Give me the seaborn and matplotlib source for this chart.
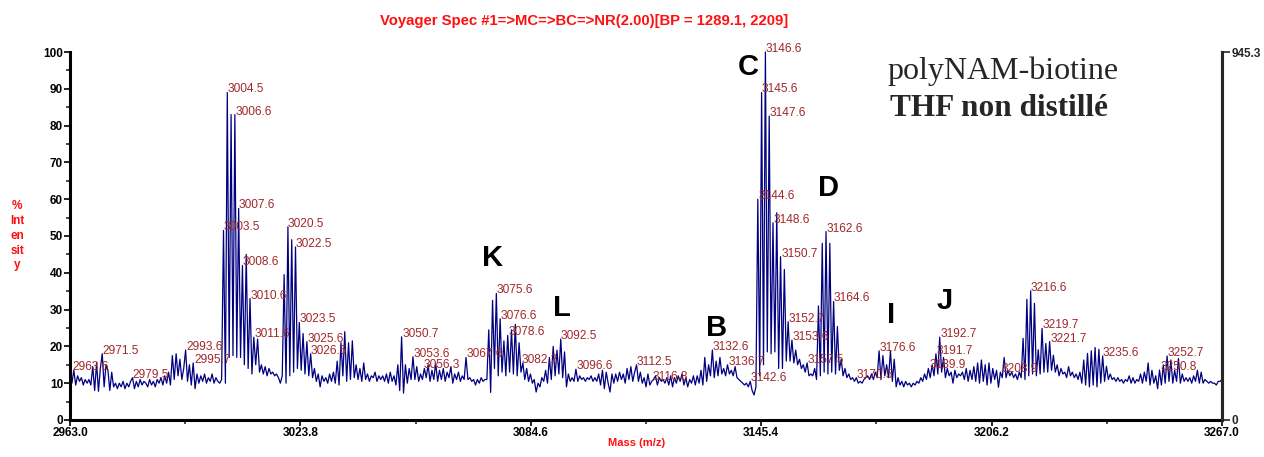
import numpy as np
import pandas as pd
import seaborn as sns
import matplotlib.pyplot as plt

# widmo MALDI - intensywnosc (%) co 0.5 Da od 2963.0 do 3267.0
start_mass = 2963.0
step = 0.5
intensity = [
    13, 10, 13.5, 9.5, 12, 10.5, 11.5, 9.5, 11, 10, 11, 9.5, 14.5, 8, 15.5, 7.8, 14, 18, 9, 15,
    13.5, 8, 13, 9, 10, 8.5, 10, 9, 10.5, 8.5, 10, 9, 10.5, 11.5, 8.5, 10.5, 9, 11, 9.5, 10.5,
    10, 9, 11, 9.5, 10.5, 9, 11, 10, 11.5, 9.5, 12, 10, 13, 9.5, 17.5, 11, 18, 12, 16.5, 11,
    14, 19, 10.5, 15, 9.5, 15.5, 8.5, 12.5, 10, 12, 10.5, 12.5, 10, 11.5, 10.5, 12.5, 10, 11.5, 10.5, 10,
    11, 51.5, 10, 89, 17, 83, 17.5, 83, 17, 57.5, 17, 42, 15, 45, 14, 33, 12.5, 22.5, 15, 22,
    13, 15, 12.5, 14.5, 12, 14, 12.5, 13, 12, 12.5, 11.5, 10, 12, 39.5, 10, 52.5, 12, 49, 13, 47,
    14, 26.5, 13.5, 23.5, 12.5, 21.3, 12, 18, 11.5, 14, 10.5, 12.5, 9, 12, 10.5, 11.5, 10, 12.5, 10.5, 13,
    10, 16, 9.5, 21, 12, 24, 10.5, 21, 11, 21.5, 11.5, 15, 11, 14, 10.5, 15.5, 11, 12.5, 10.5, 12,
    11.5, 13, 10.5, 12, 11, 12, 10.5, 12.5, 10, 13, 10.5, 12, 9.5, 15, 8, 22.6, 7.3, 15, 10, 14,
    11, 17.2, 11, 14.5, 10.5, 12.5, 11, 14, 11.5, 15, 10.5, 13.5, 11, 15.5, 10.5, 13.5, 11, 14, 10.5, 13,
    11.5, 14.5, 10, 12.5, 11, 13, 10.5, 12, 11, 17, 11, 11.5, 10.5, 11, 9.5, 11, 10, 11.5, 10.5, 11,
    11, 24.5, 7.5, 32.5, 14, 34.4, 12, 27.5, 13, 21.5, 12, 23, 13, 24.5, 12.5, 26, 12, 21, 13, 15.5,
    11, 14, 10.5, 12.5, 10, 11, 7.6, 10, 9, 11.5, 10.5, 13.5, 10, 17, 11, 20, 12, 19, 12.5, 22,
    11.5, 18.5, 9, 12.5, 10.5, 11.5, 10.5, 13.8, 10.5, 12, 11, 11.5, 10.5, 11.5, 11, 12, 10.5, 11.5, 10.5, 12.5,
    9.5, 13.5, 8.5, 13, 10, 7.6, 12.5, 10, 12.5, 10.5, 13, 11, 12.5, 10, 14, 11, 14.5, 10.5, 13, 15,
    10.5, 13, 10, 11.5, 9, 12.5, 9.5, 10.5, 11, 12, 9.5, 11.5, 10.5, 11, 10, 11.5, 9.5, 12, 9, 11.5,
    10, 12, 10.5, 12.5, 9.5, 11.5, 9, 11, 10, 12, 9.5, 12, 10, 13.5, 9.5, 17, 10.5, 15, 12, 19,
    11.5, 16, 12, 17, 12.5, 14, 12, 15, 12.5, 13.5, 12, 14.5, 11.5, 11, 10.5, 10, 9.5, 10, 9, 10.5,
    8, 6.8, 9, 60, 12, 89, 15, 100, 18.5, 82.6, 18, 53.6, 18.5, 56.3, 14, 44.4, 14, 40.9, 16, 26.7,
    16, 21.7, 15.5, 19, 15, 16.5, 14, 15, 13, 15.5, 12, 12.5, 12, 14, 11, 31, 12, 48, 13, 51.2,
    12.5, 48, 13, 32.2, 12.5, 25.4, 13.5, 16.5, 12, 14, 11.5, 12.5, 11, 11.5, 10.5, 11.5, 10, 10.5, 10, 11,
    11.5, 12, 11, 12.5, 11, 13, 11.5, 18.8, 11, 17.5, 12, 15, 11.5, 18.8, 10.5, 16.5, 9, 11.5, 9.5, 10.5,
    9, 10.5, 9.5, 10, 9, 10, 9.5, 10.5, 10, 11.5, 10.5, 12.5, 11, 14, 11.5, 15, 12, 18, 12.5, 22.5,
    13, 17, 11.5, 14, 12, 13, 10, 13.5, 11.5, 12.5, 12, 13, 11, 14, 10.5, 13.5, 11, 14.5, 10.5, 15.5,
    10, 16.3, 10.5, 15, 9.5, 15.5, 10, 14, 11, 13.5, 8.9, 13, 11.5, 17, 11.5, 13.5, 12, 13, 11.5, 12.5,
    11, 13, 11.5, 22.2, 11, 32.8, 12, 35.1, 12.5, 31.7, 12, 19.1, 12.5, 24.9, 13, 20.8, 13, 21.3, 13.5, 17.6,
    13, 15, 12, 14, 12.5, 13, 11.5, 14.5, 12, 13, 11.5, 12.5, 11, 13, 10, 16.3, 9.5, 18.1, 9, 18.8,
    9.5, 19.7, 9, 19.2, 10, 17.4, 10.5, 14.6, 11, 12.5, 11, 11.5, 10.5, 11.5, 10.5, 11, 10, 11, 10.5, 12,
    10, 11.5, 10, 11, 10.5, 12.5, 10, 13, 10.5, 15.5, 9.5, 13.5, 10, 12, 8.5, 13.6, 9.5, 15, 10, 17.4,
    10.5, 16.3, 10, 13.5, 10.5, 16.7, 10, 12.5, 10.5, 11.5, 10.5, 11.5, 10, 12, 10.5, 13.5, 10, 13, 10, 11,
    10.5, 10, 10.5, 10, 10, 9.5, 10.5, 10.5, 11,
]
mass = start_mass + step * np.arange(len(intensity))

# etykiety pikow
peak_labels = [
    "2963.6", "2971.5", "2979.5", "2993.6", "2995.7", "3003.5", "3004.5", "3006.6",
    "3007.6", "3008.6", "3010.6", "3011.6", "3020.5", "3022.5", "3023.5", "3025.6",
    "3026.6", "3050.7", "3053.6", "3056.3", "3067.6", "3075.6", "3076.6", "3078.6",
    "3082.2", "3092.5", "3096.6", "3112.5", "3116.8", "3132.6", "3136.7", "3142.6",
    "3144.6", "3145.6", "3146.6", "3147.6", "3148.6", "3150.7", "3152.7", "3153.6",
    "3157.5", "3162.6", "3164.6", "3170.5", "3176.6", "3189.9", "3191.7", "3192.7",
    "3208.9", "3216.6", "3219.7", "3221.7", "3235.6", "3250.8", "3252.7",
]

# litery serii
series_letters = ["C", "D", "B", "I", "J", "K", "L"]
series_mass = [3142.0, 3163.1, 3133.7, 3179.6, 3193.9, 3074.6, 3092.9]
series_height = [96.0, 63.0, 24.9, 28.5, 32.2, 43.9, 30.4]

x_ticks = [2963.0, 3023.8, 3084.6, 3145.4, 3206.2, 3267.0]
base_peak_counts = 945.3

df = pd.DataFrame({"mass": mass, "intensity": intensity})

sns.set_style("ticks")
plt.rcParams["font.family"] = ["Liberation Sans", "DejaVu Sans"]

fig = plt.figure(figsize=(12.64, 4.57), dpi=100)
ax = fig.add_axes([0.0554, 0.0810, 0.9114, 0.8052])

sns.lineplot(data=df, x="mass", y="intensity", ax=ax, color="#000080",
             linewidth=0.9, estimator=None, sort=False)
for l in ax.get_lines():
    l.set_clip_on(False)

ax.set_xlim(x_ticks[0], x_ticks[-1])
ax.set_ylim(0, 100)
ax.set_xticks(x_ticks)
ax.set_xticklabels([f"{t:.1f}" for t in x_ticks], fontsize=8.5, fontweight="bold")
ax.set_xticks([(a + b) / 2 for a, b in zip(x_ticks[:-1], x_ticks[1:])], minor=True)
ax.set_yticks(range(0, 101, 10))
ax.set_yticklabels([str(t) for t in range(0, 101, 10)], fontsize=8.5, fontweight="bold")
ax.set_yticks(range(5, 100, 10), minor=True)
ax.tick_params(axis="both", which="major", length=4, width=1.2, pad=1, colors="black")
ax.tick_params(axis="both", which="minor", length=3, width=1.2)
ax.set_xlabel("")
ax.set_ylabel("")
ax.spines["top"].set_visible(False)
for s in ["left", "bottom", "right"]:
    ax.spines[s].set_linewidth(2.2)
    ax.spines[s].set_color("black")

ax2 = ax.twinx()
ax2.set_ylim(0, base_peak_counts)
ax2.set_yticks([0, base_peak_counts])
ax2.set_yticklabels(["0", f"{base_peak_counts:.1f}"], fontsize=8.5, fontweight="bold")
ax2.tick_params(axis="y", length=6, width=1.2, pad=1)
ax2.spines["top"].set_visible(False)
ax2.spines["right"].set_linewidth(2.2)
ax2.spines["left"].set_visible(False)
ax2.spines["bottom"].set_visible(False)

# etykiety pikow
for lab in peak_labels:
    m = float(lab)
    sel = df[(df["mass"] >= m - 0.5) & (df["mass"] <= m + 0.5)]
    ax.text(m, sel["intensity"].max(), lab, fontsize=8.6, color="#A0282A",
            ha="left", va="baseline", clip_on=False)

for let, m, h in zip(series_letters, series_mass, series_height):
    ax.text(m, h, let, fontsize=21, fontweight="bold", color="black",
            ha="center", va="center")

fig.text(0.7025, 0.845, "polyNAM-biotine", fontsize=23, family="Liberation Serif",
         ha="left", va="center")
fig.text(0.704, 0.763, "THF non distillé", fontsize=22.5, family="Liberation Serif",
         fontweight="bold", ha="left", va="center")

fig.text(0.624, 0.953, "Voyager Spec #1=>MC=>BC=>NR(2.00)[BP = 1289.1, 2209]",
         fontsize=10.7, fontweight="bold", color="#FF1010", ha="right", va="center")
fig.text(0.5035, 0.030, "Mass (m/z)", fontsize=8, fontweight="bold",
         color="#FF1010", ha="center", va="center")
fig.text(0.0135, 0.484, "%\nInt\nen\nsit\ny", fontsize=8.5, fontweight="bold",
         color="#FF1010", ha="center", va="center", linespacing=1.3)

fig.savefig("out.png", dpi=100)
